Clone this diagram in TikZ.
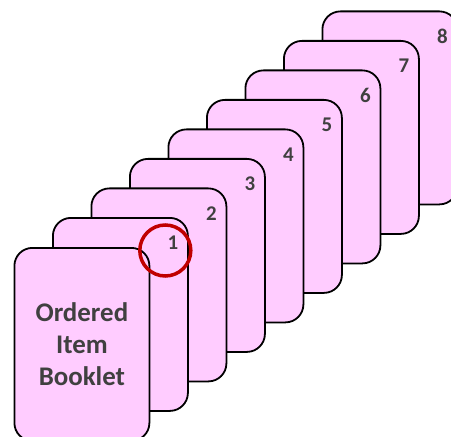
\documentclass[tikz,border=0pt]{standalone}
\usepackage{fontspec}
\setmainfont{Carlito}
\definecolor{cardpink}{HTML}{FFCCFF}
\definecolor{labgray}{HTML}{404040}
\definecolor{ringred}{HTML}{C00000}
\tikzset{
  card/.style={draw=black, line width=1.8bp, fill=cardpink, rounded corners=18bp,
    minimum width=135bp, minimum height=193bp, inner sep=0pt, anchor=north west},
  numlab/.style={text=labgray, font=\bfseries\fontsize{21}{24}\selectfont, inner sep=0pt},
  titlelab/.style={text=labgray, font=\bfseries\fontsize{27}{32}\selectfont, align=center, inner sep=0pt},
  ring/.style={circle, draw=ringred, line width=3.5bp, minimum size=51bp, inner sep=0pt}
}
\begin{document}
\begin{tikzpicture}[x=1bp,y=-1bp]
\useasboundingbox (0,0) rectangle (451,437);
\clip (0,0) rectangle (451,437);
\foreach \n in {8,7,...,1}{
  \node[card] (card\n) at ({52+38.5*(\n-1)},{217-29.5*(\n-1)}) {};
  \node[numlab] (lab\n) at ([xshift=-16bp,yshift=-26bp]card\n.north east) {\n};
}
\node[card] (card0) at (13.5,247) {};
\node[titlelab] (title) at (card0.center) {Ordered\\Item\\Booklet};
\node[ring] (mark) at ([xshift=-23.5bp,yshift=-33.5bp]card1.north east) {};
\end{tikzpicture}
\end{document}
